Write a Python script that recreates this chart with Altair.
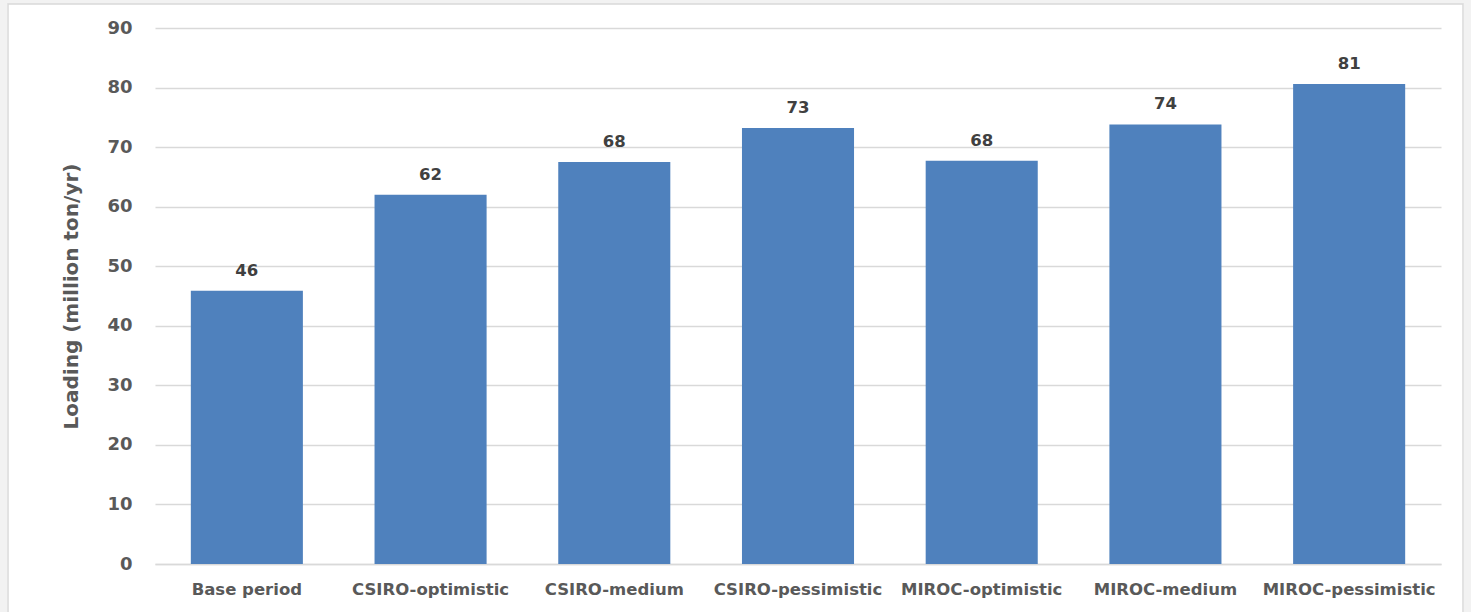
import altair as alt
import pandas as pd

# Sediment loading by climate scenario
scenarios = [
    "Base period",
    "CSIRO-optimistic",
    "CSIRO-medium",
    "CSIRO-pessimistic",
    "MIROC-optimistic",
    "MIROC-medium",
    "MIROC-pessimistic",
]
loading = [45.9, 62.0, 67.5, 73.2, 67.7, 73.8, 80.6]

df = pd.DataFrame({"scenario": scenarios, "loading": loading})

FONT = "DejaVu Sans"
AXIS_GREY = "#595959"
GRID_GREY = "#D9D9D9"
BAR_BLUE = "#4F81BD"

W, H = 1286, 536

x_enc = alt.X(
    "scenario:N",
    sort=scenarios,
    scale=alt.Scale(paddingInner=0.39, paddingOuter=0.195),
    axis=alt.Axis(
        title=None,
        labelAngle=0,
        labelFont=FONT,
        labelFontWeight="bold",
        labelFontSize=16.5,
        labelColor=AXIS_GREY,
        labelPadding=17,
        ticks=False,
        domainColor=GRID_GREY,
        domainWidth=1.5,
        grid=False,
    ),
)

y_enc = alt.Y(
    "loading:Q",
    scale=alt.Scale(domain=[0, 90], nice=False),
    axis=alt.Axis(
        title="Loading (million ton/yr)",
        values=list(range(0, 91, 10)),
        labelFont=FONT,
        labelFontWeight="bold",
        labelFontSize=18,
        labelColor=AXIS_GREY,
        labelPadding=23,
        ticks=False,
        domain=False,
        gridColor=GRID_GREY,
        gridWidth=1.5,
        titleFont=FONT,
        titleFontWeight="bold",
        titleFontSize=20,
        titleColor=AXIS_GREY,
        titleAngle=-90,
        titleX=-78,
        titleY=H / 2,
        titleAlign="center",
        titleBaseline="alphabetic",
    ),
)

one = pd.DataFrame({"k": [0]})

# Grey surround outside the chart frame
surround = alt.Chart(one).mark_rect(
    fill=None, stroke="#F2F2F2", strokeWidth=14
).encode(
    x=alt.value(-155), x2=alt.value(1316), y=alt.value(-31), y2=alt.value(660)
)

# Thin chart frame
frame = alt.Chart(one).mark_rect(
    fill=None, stroke="#D9D9D9", strokeWidth=1.5
).encode(
    x=alt.value(-147), x2=alt.value(1308), y=alt.value(-24), y2=alt.value(640)
)

bars = alt.Chart(df).mark_bar(color=BAR_BLUE).encode(x=x_enc, y=y_enc)

labels = alt.Chart(df).mark_text(
    font=FONT,
    fontWeight="bold",
    fontSize=16.5,
    color="#404040",
    baseline="bottom",
    dy=-12,
).encode(
    x=alt.X("scenario:N", sort=scenarios),
    y="loading:Q",
    text=alt.Text("loading:Q", format=".0f"),
)

chart = (
    alt.layer(surround, frame, bars, labels)
    .properties(
        width=W,
        height=H,
        autosize=alt.AutoSizeParams(type="none"),
        padding={"left": 155, "top": 28, "right": 30, "bottom": 48},
        background="white",
    )
    .configure_view(stroke=None)
)

chart.save("out.html", embed_options={"renderer": "svg", "actions": False})
